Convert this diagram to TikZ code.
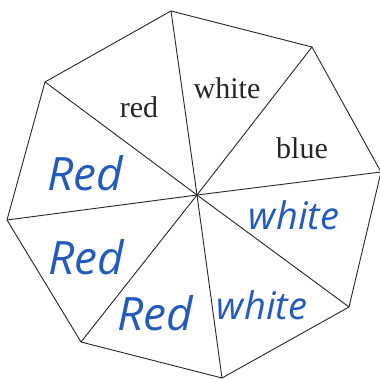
\documentclass[tikz,border=0pt]{standalone}
\usepackage{fontspec}
\setmainfont{Liberation Serif}
\newfontfamily\handfont{Open Sans}
\begin{document}
\begin{tikzpicture}[x=1pt,y=1pt,
  edge/.style={draw=black!85,line width=0.9pt},
  printed/.style={font=\fontsize{30}{33}\selectfont,text=black!85,inner sep=0pt},
  hand/.style={font=\handfont\itshape\fontsize{38}{42}\selectfont,text={rgb,255:red,34;green,90;blue,190},inner sep=0pt},
  handbig/.style={hand,font=\handfont\itshape\fontsize{46}{50}\selectfont}]
\useasboundingbox (0,0) rectangle (380,379);
\clip (0,0) rectangle (380,379);
\fill[white] (0,0) rectangle (380,379);
\coordinate (A) at (171,368);
\coordinate (B) at (312,332);
\coordinate (C) at (381,207);
\coordinate (D) at (349,72);
\coordinate (E) at (222,1);
\coordinate (F) at (81,37);
\coordinate (G) at (7,159);
\coordinate (H) at (45,297);
\coordinate (O) at (197,184);
\draw[edge] (A) -- (B) -- (C) -- (D) -- (E) -- (F) -- (G) -- (H) -- cycle;
\foreach \v in {A,B,C,D,E,F,G,H} \draw[edge] (O) -- (\v);
\node[printed] (t1) at (139,272) {red};
\node[printed] (t2) at (227,291) {white};
\node[printed] (t3) at (302,231) {blue};
\node[handbig] (h1) at (85,206) {Red};
\node[handbig] (h2) at (86,122) {Red};
\node[handbig] (h3) at (155,66) {Red};
\node[hand] (h4) at (294,164) {white};
\node[hand] (h5) at (262,74) {white};
\end{tikzpicture}
\end{document}
